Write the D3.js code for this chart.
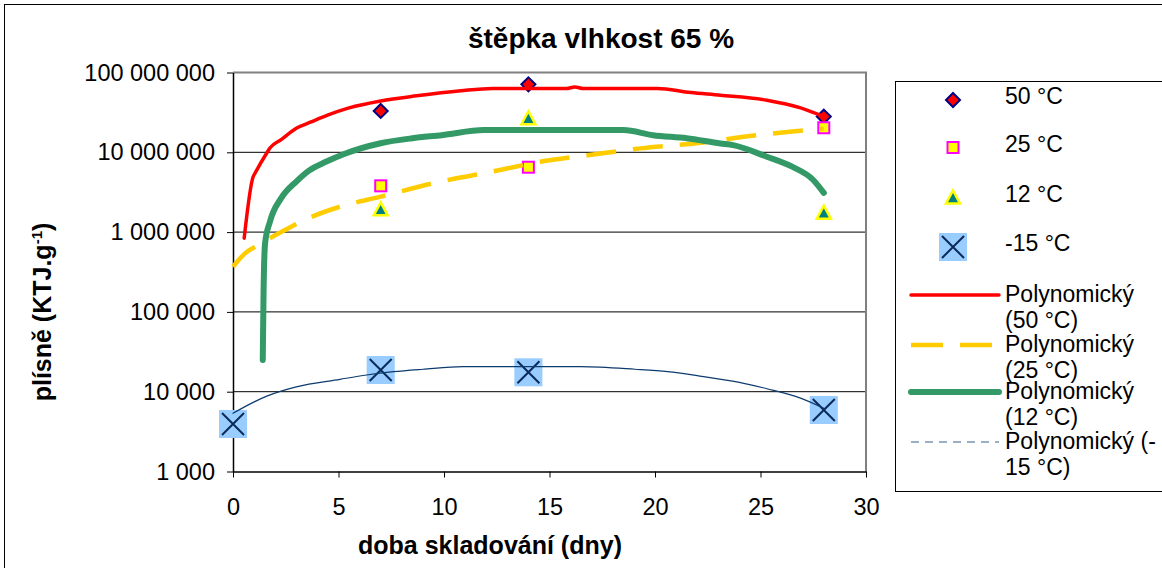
<!DOCTYPE html>
<html><head><meta charset="utf-8">
<script src="https://cdn.jsdelivr.net/npm/d3@7"></script>
<style>body{margin:0;background:#fff}svg{display:block;font-family:"Liberation Sans",Arial,sans-serif}</style>
</head><body>
<svg id="c" width="1162" height="568"></svg>
<script>
const title = "štěpka vlhkost 65 %";
const xTitle = "doba skladování (dny)";
const xTicks = [0, 5, 10, 15, 20, 25, 30];
const yTicks = [1e3, 1e4, 1e5, 1e6, 1e7, 1e8];

// measured points
const days = [0, 7, 14, 28];
const s50 = [null, 33e6, 71e6, 28e6];
const s25 = [null, 3.8e6, 6.5e6, 20.3e6];
const s12 = [null, 1.93e6, 26.7e6, 1.75e6];
const sM15 = [3.94e3, 18.7e3, 17.5e3, 5.9e3];

// trendlines
const t50Days = [0.53, 0.95, 1.05, 1.6, 1.75, 2.3, 3.0, 3.7, 4.45, 5.5, 7.0, 8.7, 10.8, 12.3, 15.8, 16.2, 16.6, 20.1, 21.7, 23.1, 25.3, 26.9, 28];
const t50Vals = [0.84e6, 4.9e6, 5.5e6, 9.8e6, 11.3e6, 14.5e6, 20e6, 24e6, 29e6, 36e6, 44e6, 51e6, 59e6, 63e6, 63e6, 66e6, 63e6, 63e6, 56e6, 52e6, 45e6, 36e6, 28e6];
const t25Days = [0, 0.57, 1.2, 2.46, 3.57, 5.07, 7.0, 9.5, 12.65, 14.55, 16.9, 19.3, 22.3, 24.2, 26.9, 28];
const t25Vals = [368e3, 542e3, 689e3, 1.06e6, 1.49e6, 2.08e6, 2.78e6, 4.1e6, 6.0e6, 7.6e6, 9.25e6, 11.2e6, 13.3e6, 15.7e6, 18.6e6, 19.8e6];
const t12Days = [1.41, 1.45, 1.52, 1.75, 2.3, 3.0, 3.6, 4.4, 5.3, 7.0, 8.5, 9.9, 11.9, 18.5, 19.9, 21.5, 23.1, 23.7, 25.3, 26.5, 27.5, 28];
const t12Vals = [25e3, 186e3, 724e3, 1.35e6, 2.7e6, 4.3e6, 5.9e6, 7.6e6, 9.6e6, 13e6, 15e6, 16.4e6, 19e6, 19e6, 16.4e6, 15e6, 12.9e6, 12.3e6, 8.8e6, 6.6e6, 4.5e6, 3.1e6];
const tM15Days = [0, 0.57, 1.6, 3.0, 5.07, 6.34, 7.6, 9.0, 10.9, 16.5, 19.05, 20.6, 22.0, 24.0, 25.3, 26.9, 28];
const tM15Vals = [5.36e3, 6.5e3, 8.8e3, 11.5e3, 14.3e3, 16.2e3, 17.8e3, 19.1e3, 20.6e3, 20.6e3, 19.1e3, 17.8e3, 15.9e3, 13.1e3, 10.9e3, 8.3e3, 6.2e3];

const legendMarkers = ["50 °C", "25 °C", "12 °C", "-15 °C"];
const legendLines = [["Polynomický", "(50 °C)"], ["Polynomický", "(25 °C)"], ["Polynomický", "(12 °C)"], ["Polynomický (-", "15 °C)"]];

const svg = d3.select("#c");
const x = d3.scaleLinear().domain([0, 30]).range([233, 866]);
const y = d3.scaleLog().domain([1e3, 1e8]).range([471.5, 72.5]);

// outer chart border
svg.append("rect").attr("x", 4.5).attr("y", 4.5).attr("width", 1200).attr("height", 600)
  .attr("fill", "#fff").attr("stroke", "#000").attr("stroke-width", 1);

// gridlines
svg.append("g").selectAll("line").data(yTicks.slice(1, -1)).join("line")
  .attr("x1", x(0)).attr("x2", x(30)).attr("y1", d => y(d)).attr("y2", d => y(d))
  .attr("stroke", "#000").attr("stroke-width", 1);
// plot border top/right
svg.append("path").attr("d", `M${x(0)},${y(1e8)}H${x(30)}V${y(1e3)}`)
  .attr("fill", "none").attr("stroke", "#808080").attr("stroke-width", 2);

const fmt = v => d3.format(",")(v).replace(/,/g, " ");
const yAxis = svg.append("g").attr("transform", `translate(${x(0)},0)`)
  .call(d3.axisLeft(y).tickValues(yTicks).tickFormat(fmt).tickSize(6).tickSizeOuter(0));
const xAxis = svg.append("g").attr("transform", `translate(0,${y(1e3)})`)
  .call(d3.axisBottom(x).tickValues(xTicks).tickFormat(d3.format("d")).tickSize(6).tickSizeOuter(0));
[yAxis, xAxis].forEach(g => {
  g.select(".domain").attr("stroke", "#000").attr("stroke-width", 1.5);
  g.selectAll(".tick line").attr("stroke", "#000").attr("stroke-width", 1);
  g.selectAll("text").attr("font-family", '"Liberation Sans",Arial,sans-serif').attr("font-size", 23.5).attr("fill", "#000");
});
yAxis.selectAll("text").attr("x", -18);
xAxis.selectAll("text").attr("y", 27);

// titles
svg.append("text").attr("x", 601).attr("y", 48).attr("text-anchor", "middle")
  .attr("font-size", 28).attr("font-weight", "bold").text(title);
svg.append("text").attr("x", 490).attr("y", 554).attr("text-anchor", "middle")
  .attr("font-size", 25).attr("font-weight", "bold").text(xTitle);
const yt = svg.append("text").attr("transform", "translate(51,312) rotate(-90)").attr("text-anchor", "middle")
  .attr("font-size", 25).attr("font-weight", "bold");
yt.append("tspan").text("plísně (KTJ.g");
yt.append("tspan").attr("dy", -9).attr("font-size", 15).text("-1");
yt.append("tspan").attr("dy", 9).text(")");

// markers
function diamond(g, cx, cy) {
  g.append("path").attr("d", `M${cx},${cy-7}L${cx+7},${cy}L${cx},${cy+7}L${cx-7},${cy}Z`)
    .attr("fill", "#ff0000").attr("stroke", "#000080").attr("stroke-width", 2);
}
function square(g, cx, cy) {
  g.append("rect").attr("x", cx-5.5).attr("y", cy-5.5).attr("width", 11).attr("height", 11)
    .attr("fill", "#ffff00").attr("stroke", "#ff00ff").attr("stroke-width", 2);
}
function triangle(g, cx, cy) {
  g.append("path").attr("d", `M${cx},${cy-7}L${cx+7},${cy+6}L${cx-7},${cy+6}Z`)
    .attr("fill", "#008080").attr("stroke", "#ffff00").attr("stroke-width", 2.5).attr("stroke-linejoin", "miter");
}
function xbox(g, cx, cy) {
  g.append("rect").attr("x", cx-14).attr("y", cy-14).attr("width", 28).attr("height", 28).attr("fill", "#99ccff");
  g.append("path").attr("d", `M${cx-11},${cy-11}L${cx+11},${cy+11}M${cx+11},${cy-11}L${cx-11},${cy+11}`)
    .attr("stroke", "#0a2a5a").attr("stroke-width", 2);
}
const mg = svg.append("g");
days.forEach((d, i) => {
  if (s50[i] != null) diamond(mg, x(d), y(s50[i]));
  if (s25[i] != null) square(mg, x(d), y(s25[i]));
  if (s12[i] != null) triangle(mg, x(d), y(s12[i]));
  if (sM15[i] != null) xbox(mg, x(d), y(sM15[i]));
});

// trendlines
const line = d3.line().x(d => x(d[0])).y(d => y(d[1])).curve(d3.curveMonotoneX);
const zip = (a, b) => a.map((v, i) => [v, b[i]]);
const trends = [
  {data: zip(tM15Days, tM15Vals), color: "#0d3b6e", w: 1.2, dash: null},
  {data: zip(t25Days, t25Vals), color: "#ffcc00", w: 4.5, dash: "30,17"},
  {data: zip(t12Days, t12Vals), color: "#339966", w: 6, dash: null},
  {data: zip(t50Days, t50Vals), color: "#ff0000", w: 3.5, dash: null}
];
svg.append("g").selectAll("path").data(trends).join("path")
  .attr("d", d => line(d.data)).attr("fill", "none")
  .attr("stroke", d => d.color).attr("stroke-width", d => d.w)
  .attr("stroke-dasharray", d => d.dash).attr("stroke-linecap", d => d.dash ? "butt" : "round");

// legend
const lg = svg.append("g");
lg.append("rect").attr("x", 895.5).attr("y", 81.5).attr("width", 300).attr("height", 410)
  .attr("fill", "#fff").attr("stroke", "#000").attr("stroke-width", 1);
const mFns = [diamond, square, triangle, xbox];
const mY = [100, 147.5, 197.5, 247];
legendMarkers.forEach((t, i) => {
  mFns[i](lg, 953, mY[i]);
  lg.append("text").attr("x", 1005).attr("y", mY[i] + 4).attr("font-size", 23).text(t);
});
const lStyles = [
  {color: "#ff0000", w: 3.5, dash: null},
  {color: "#ffcc00", w: 4.5, dash: "32,17"},
  {color: "#339966", w: 6, dash: null},
  {color: "#7b97b5", w: 1.5, dash: "8,6"}
];
const lY = [295, 345, 392, 442];
legendLines.forEach((t, i) => {
  const s = lStyles[i];
  lg.append("line").attr("x1", 911).attr("x2", 999).attr("y1", lY[i]).attr("y2", lY[i])
    .attr("stroke", s.color).attr("stroke-width", s.w).attr("stroke-dasharray", s.dash)
    .attr("stroke-linecap", s.dash ? "butt" : "round");
  lg.append("text").attr("x", 1005).attr("y", lY[i] + 7).attr("font-size", 23).text(t[0]);
  lg.append("text").attr("x", 1005).attr("y", lY[i] + 33).attr("font-size", 23).text(t[1]);
});
</script>
</body></html>
